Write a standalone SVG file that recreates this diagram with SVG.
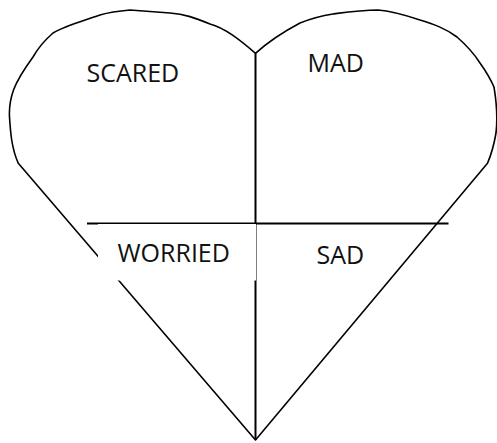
<svg xmlns="http://www.w3.org/2000/svg" width="497" height="443" viewBox="0 0 497 443">
<style>
.ln{fill:none;stroke:#000;stroke-width:1.6;stroke-linejoin:round}
.lbl{font-family:"Open Sans","Liberation Sans",sans-serif;font-size:25px;fill:#111}
</style>
<rect width="497" height="443" fill="#fff"/>
<g id="connectors">
<path id="heart" class="ln" d="M255.5,53.3 C240,40 225,28 210,24 C195,18 185,14 170,13 L130,10 C118,11 110,12 100,15 C80,22 65,26 53,33 C45,40 38,48 33,57 C25,68 18,78 13.5,90 C10,100 9,108 9.5,117 C10,125 10.5,132 11.7,140 C13,148 15,156 18.3,163.3 L255.5,440 L487.5,163.3 C491,155 494,145 496,133 C497.5,120 497,105 494,87 C490,78 485,70 480,63 C473,52 465,44 457,37 C445,28 433,24 420,20 C405,15 392,11 378,10 C362,10 348,12 333,14 C320,16 310,19 300,23 C283,32 268,42 255.5,53.3 Z"/>
<line id="vline" x1="255.5" y1="53.3" x2="255.5" y2="440" stroke="#000" stroke-width="2"/>
<line id="hline" x1="87" y1="223.5" x2="448.5" y2="223.5" stroke="#000" stroke-width="1.8"/>
</g>
<g id="node-scared"><text class="lbl" x="86.5" y="81.7">SCARED</text></g>
<g id="node-mad"><text class="lbl" x="307.5" y="71.7">MAD</text></g>
<g id="node-worried">
<rect x="98" y="224" width="158" height="56.5" fill="#fff"/>
<text class="lbl" x="117.5" y="261.7">WORRIED</text>
</g>
<g id="node-sad"><text class="lbl" x="316.5" y="264.3">SAD</text></g>
</svg>
